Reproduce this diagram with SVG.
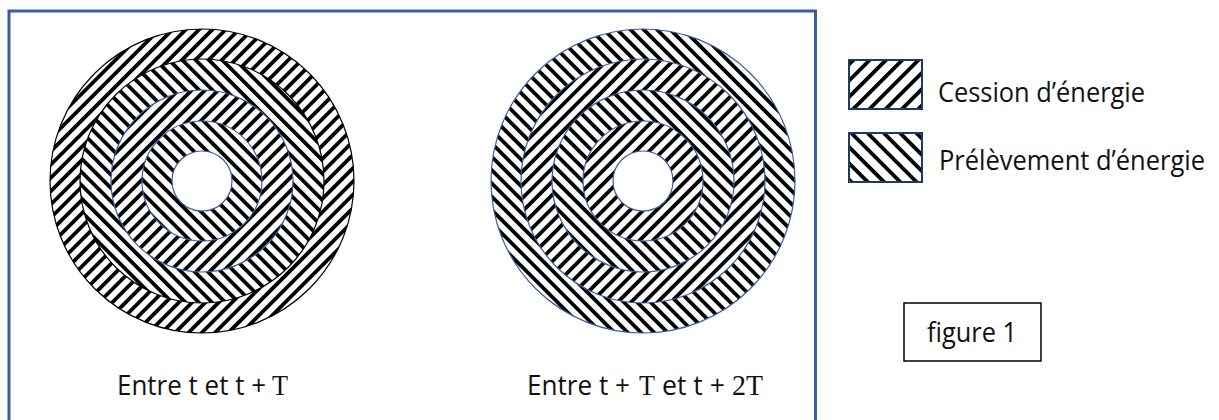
<svg xmlns="http://www.w3.org/2000/svg" width="1219" height="420" viewBox="0 0 1219 420">
  <style>
    .lbl { font-family: "Open Sans", "Noto Sans", "Liberation Sans", sans-serif; font-size: 27px; fill: #111; }
    .math { font-family: "Liberation Serif", "DejaVu Serif", serif; font-size: 29px; fill: #111; }
    .ringBlue { stroke: #3a5f9f; stroke-width: 1.2; }
    .ringBlack { stroke: #000; stroke-width: 1.2; }
    .legendBox { stroke: #1f3864; stroke-width: 2; }
  </style>
  <defs>
    <pattern id="up" patternUnits="userSpaceOnUse" width="9.4" height="9.4" patternTransform="rotate(45)">
      <rect width="9.4" height="9.4" fill="#fff"/>
      <rect width="3.8" height="9.4" fill="#000"/>
    </pattern>
    <pattern id="down" patternUnits="userSpaceOnUse" width="9.4" height="9.4" patternTransform="rotate(-45)">
      <rect width="9.4" height="9.4" fill="#fff"/>
      <rect width="3.8" height="9.4" fill="#000"/>
    </pattern>
    <pattern id="upL" patternUnits="userSpaceOnUse" width="11.5" height="11.5" patternTransform="rotate(45)">
      <rect width="11.5" height="11.5" fill="#fff"/>
      <rect width="3.8" height="11.5" fill="#000"/>
    </pattern>
    <pattern id="downL" patternUnits="userSpaceOnUse" width="11.5" height="11.5" patternTransform="rotate(-45)">
      <rect width="11.5" height="11.5" fill="#fff"/>
      <rect width="3.8" height="11.5" fill="#000"/>
    </pattern>
  </defs>
  <rect x="0" y="0" width="1219" height="420" fill="#fff"/>

  <g id="frame">
    <rect x="9" y="11" width="806.5" height="420" fill="none" stroke="#3a5f9f" stroke-width="3"/>
  </g>

  <g id="disc-left">
    <circle cx="202" cy="181" r="152" fill="url(#up)" class="ringBlack"/>
    <circle cx="202" cy="181" r="122" fill="url(#down)" class="ringBlack"/>
    <circle cx="202" cy="181" r="91" fill="url(#up)" class="ringBlue"/>
    <circle cx="202" cy="181" r="60" fill="url(#down)" class="ringBlue"/>
    <circle cx="202" cy="181" r="30" fill="#fff" class="ringBlue"/>
  </g>

  <g id="disc-right">
    <circle cx="643" cy="181" r="152" fill="url(#down)" class="ringBlue"/>
    <circle cx="643" cy="181" r="122" fill="url(#up)" class="ringBlue"/>
    <circle cx="643" cy="181" r="91" fill="url(#down)" class="ringBlue"/>
    <circle cx="643" cy="181" r="60" fill="url(#up)" class="ringBlue"/>
    <circle cx="643" cy="181" r="30" fill="#fff" class="ringBlue"/>
  </g>

  <g id="caption-left">
    <text class="lbl" x="117" y="395" textLength="149" lengthAdjust="spacingAndGlyphs">Entre t et t +</text>
    <text class="math" x="272" y="395" textLength="16" lengthAdjust="spacingAndGlyphs">T</text>
  </g>
  <g id="caption-right">
    <text class="lbl" x="527" y="395" textLength="103" lengthAdjust="spacingAndGlyphs">Entre t +</text>
    <text class="math" x="639" y="395" textLength="16" lengthAdjust="spacingAndGlyphs">T</text>
    <text class="lbl" x="662" y="395" textLength="63" lengthAdjust="spacingAndGlyphs">et t +</text>
    <text class="math" x="732" y="395" textLength="31" lengthAdjust="spacingAndGlyphs">2T</text>
  </g>

  <g id="legend-cession">
    <rect x="849" y="60" width="73" height="49" fill="url(#upL)" class="legendBox"/>
    <text class="lbl" x="938" y="102" textLength="207" lengthAdjust="spacingAndGlyphs">Cession d’énergie</text>
  </g>
  <g id="legend-prelevement">
    <rect x="849" y="133" width="73" height="49" fill="url(#downL)" class="legendBox"/>
    <text class="lbl" x="939" y="170" textLength="266" lengthAdjust="spacingAndGlyphs">Prélèvement d’énergie</text>
  </g>

  <g id="figure-label">
    <rect x="904" y="303" width="137" height="58" fill="#fff" stroke="#000" stroke-width="1.5"/>
    <text class="lbl" x="927" y="342" textLength="90" lengthAdjust="spacingAndGlyphs">figure 1</text>
  </g>
</svg>
